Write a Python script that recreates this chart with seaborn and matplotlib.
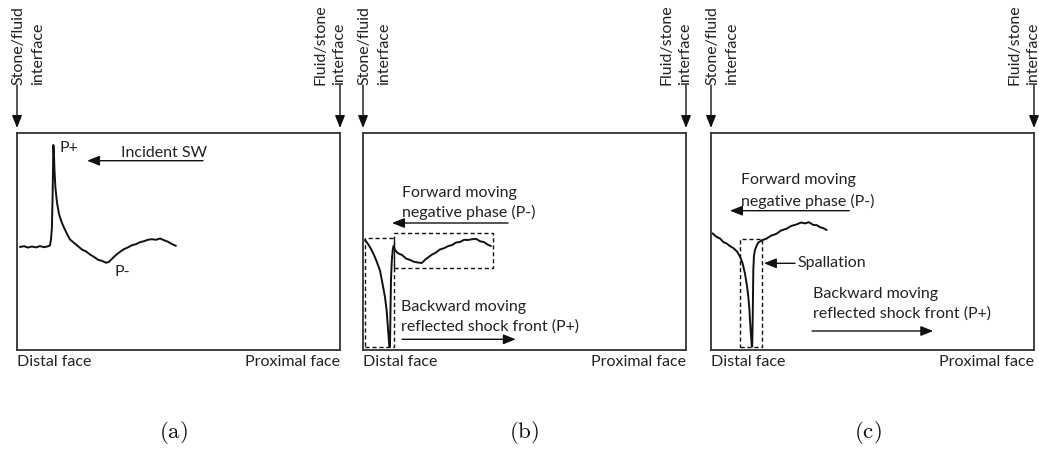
import matplotlib
matplotlib.use("Agg")
import matplotlib.pyplot as plt
from matplotlib.patches import Rectangle
import pandas as pd
import seaborn as sns

# ---- data: position along the stone (% of length) and pressure (arb. units)
pos_a = [0.9, 2.2, 3.4, 4.6, 5.9, 7.1, 8.4, 9.6, 10.2, 10.5, 10.8, 11.0, 11.15, 11.24,
         11.4, 11.6, 11.9, 12.4, 13.0, 13.8, 14.6, 15.5, 16.4, 17.7, 18.9, 20.1, 21.4,
         22.6, 23.8, 25.1, 26.3, 27.6, 28.5, 29.4, 30.7, 31.9, 33.1, 34.4, 35.6, 36.8,
         38.1, 39.3, 40.6, 41.8, 43.0, 44.3, 45.5, 46.8, 48.0, 49.2]
prs_a = [0.00, 0.008, -0.006, 0.005, -0.004, 0.009, -0.002, 0.007, 0.015, 0.07, 0.19,
         0.47, 0.77, 1.02, 0.97, 0.77, 0.59, 0.44, 0.33, 0.25, 0.19, 0.13, 0.075, 0.04,
         0.008, -0.025, -0.045, -0.075, -0.098, -0.128, -0.138, -0.158, -0.148, -0.118,
         -0.078, -0.048, -0.022, -0.003, 0.018, 0.028, 0.048, 0.058, 0.073, 0.078,
         0.072, 0.085, 0.068, 0.052, 0.028, 0.012]

pos_b = [0.6, 1.55, 2.5, 3.4, 4.3, 5.3, 6.0, 6.8, 7.3, 7.65, 7.96, 8.14, 8.36, 8.51,
         8.67, 8.89, 9.2, 9.44, 9.9, 10.8, 12.1, 13.3, 14.6, 15.8, 17.0, 18.2, 19.2,
         20.1, 21.4, 22.6, 23.8, 25.1, 26.3, 27.6, 28.8, 30.0, 31.3, 32.5, 33.8, 35.0,
         36.2, 37.5, 38.7, 39.6]
prs_b = [0.07, 0.03, -0.02, -0.08, -0.15, -0.24, -0.36, -0.50, -0.63, -0.78, -0.91,
         -0.995, -0.995, -0.63, -0.33, -0.15, -0.03, 0.01, -0.03, -0.062, -0.08, -0.115,
         -0.13, -0.148, -0.155, -0.16, -0.128, -0.105, -0.075, -0.055, -0.025, -0.012,
         0.008, 0.02, 0.045, 0.05, 0.072, 0.07, 0.078, 0.082, 0.058, 0.048, 0.022, 0.01]

pos_c = [0.5, 1.55, 2.8, 3.8, 4.95, 5.9, 6.9, 8.05, 9.0, 9.75, 10.5, 11.15, 11.55,
         11.86, 12.07, 12.38, 12.6, 12.76, 12.91, 13.0, 13.1, 13.3, 13.6, 14.1, 14.6,
         15.8, 17.2, 18.6, 20.3, 21.7, 23.4, 24.8, 26.5, 27.9, 29.1, 30.3, 31.7, 32.8,
         33.75, 34.8, 35.8]
prs_c = [0.137, 0.105, 0.085, 0.05, 0.033, 0.008, -0.01, -0.045, -0.097, -0.16, -0.263,
         -0.39, -0.497, -0.61, -0.73, -0.88, -0.98, -0.997, -0.73, -0.48, -0.23, -0.09,
         -0.03, 0.01, 0.043, 0.068, 0.084, 0.113, 0.133, 0.165, 0.183, 0.21, 0.226,
         0.245, 0.236, 0.248, 0.22, 0.218, 0.198, 0.188, 0.17]

# dashed highlight regions: [x0, x1, p0, p1]
regions_b = [[0.6, 9.6, -1.0, 0.09], [9.6, 40.2, -0.213, 0.143]]
regions_c = [[8.9, 15.85, -0.997, 0.077]]

panel_labels = ["(a)", "(b)", "(c)"]
left_face, right_face = "Distal face", "Proximal face"
left_iface = ["Stone/fluid", "interface"]
right_iface = ["Fluid/stone", "interface"]

# ---- style
sns.set_theme(style="white")
plt.rcParams["font.family"] = ["Lato", "DejaVu Sans"]
plt.rcParams["mathtext.fontset"] = "cm"
FS = 11.5
TXT = "#222222"
LINE = "#111111"

W, H = 1039, 449
fig = plt.figure(figsize=(W / 100, H / 100), dpi=100)
fig.patch.set_facecolor("white")

lefts = [17, 363, 711]
box_w, box_top, box_bot = 323, 133, 350
label_x = [0.483, 0.498, 0.487]

ARW = dict(arrowstyle="-|>,head_length=0.75,head_width=0.3", mutation_scale=10,
           lw=1.0, color=LINE, shrinkA=0, shrinkB=0)


def arrow(ax, x0, y0, x1, y1):
    ax.annotate("", xy=(x1, y1), xytext=(x0, y0), xycoords="data",
                textcoords="data", arrowprops=ARW, annotation_clip=False)


def txt(ax, x, y, s, **kw):
    kw.setdefault("ha", "left")
    kw.setdefault("va", "center")
    ax.text(x, y, s, fontsize=FS, color=TXT, clip_on=False, **kw)


axes = []
series = [(pos_a, prs_a), (pos_b, prs_b), (pos_c, prs_c)]
for i, L in enumerate(lefts):
    ax = fig.add_axes([L / W, (H - box_bot) / H, box_w / W, (box_bot - box_top) / H])
    df = pd.DataFrame({"position": series[i][0], "pressure": series[i][1]})
    sns.lineplot(data=df, x="position", y="pressure", ax=ax, color=LINE, lw=1.4,
                 estimator=None, sort=False)
    ax.set_xlim(0, 100)
    ax.set_ylim(-1.03, 1.14)
    ax.set_xticks([]); ax.set_yticks([])
    ax.set_xlabel(""); ax.set_ylabel("")
    for sp in ax.spines.values():
        sp.set_visible(True); sp.set_color("#333333"); sp.set_linewidth(1.3)

    # interface labels + arrows
    ax.text(0.5, 1.62, left_iface[0], rotation=90, ha="center", va="bottom",
            fontsize=FS, color=TXT, clip_on=False)
    ax.text(6.4, 1.62, left_iface[1], rotation=90, ha="center", va="bottom",
            fontsize=FS, color=TXT, clip_on=False)
    ax.text(94.0, 1.62, right_iface[0], rotation=90, ha="center", va="bottom",
            fontsize=FS, color=TXT, clip_on=False)
    ax.text(99.6, 1.62, right_iface[1], rotation=90, ha="center", va="bottom",
            fontsize=FS, color=TXT, clip_on=False)
    arrow(ax, 0, 1.62, 0, 1.19)
    arrow(ax, 100, 1.62, 100, 1.19)

    # face labels
    ax.text(0.0, -0.055, left_face, transform=ax.transAxes, ha="left", va="center",
            fontsize=FS, color=TXT)
    ax.text(1.0, -0.055, right_face, transform=ax.transAxes, ha="right", va="center",
            fontsize=FS, color=TXT)
    ax.text(label_x[i], -0.382, r"$\mathrm{" + panel_labels[i] + "}$",
            transform=ax.transAxes, ha="center", va="center", fontsize=16.5,
            color="#111111")
    axes.append(ax)

ax_a, ax_b, ax_c = axes

# panel (a)
txt(ax_a, 13.2, 0.995, "P+")
txt(ax_a, 32.2, 0.937, "Incident SW")
arrow(ax_a, 57.6, 0.863, 21.7, 0.863)
txt(ax_a, 30.1, -0.247, "P-")

# panel (b)
txt(ax_b, 12.1, 0.54, "Forward moving")
txt(ax_b, 12.1, 0.35, "negative phase (P-)")
arrow(ax_b, 44.9, 0.24, 8.98, 0.24)
txt(ax_b, 11.9, -0.603, "Backward moving")
txt(ax_b, 11.9, -0.797, "reflected shock front (P+)")
arrow(ax_b, 12.1, -0.923, 47.3, -0.923)
for x0, x1, p0, p1 in regions_b:
    ax_b.add_patch(Rectangle((x0, p0), x1 - x0, p1 - p0, fill=False, lw=1.0,
                             ls=(0, (3, 2)), ec=LINE, clip_on=False))

# panel (c)
txt(ax_c, 9.4, 0.67, "Forward moving")
txt(ax_c, 9.4, 0.46, "negative phase (P-)")
arrow(ax_c, 42.8, 0.363, 5.88, 0.363)
arrow(ax_c, 26.0, -0.163, 16.4, -0.163)
txt(ax_c, 26.9, -0.163, "Spallation")
txt(ax_c, 31.5, -0.47, "Backward moving")
txt(ax_c, 31.5, -0.67, "reflected shock front (P+)")
arrow(ax_c, 31.3, -0.84, 68.8, -0.84)
for x0, x1, p0, p1 in regions_c:
    ax_c.add_patch(Rectangle((x0, p0), x1 - x0, p1 - p0, fill=False, lw=1.0,
                             ls=(0, (3, 2)), ec=LINE, clip_on=False))

fig.savefig("out.png", dpi=100, facecolor="white")
